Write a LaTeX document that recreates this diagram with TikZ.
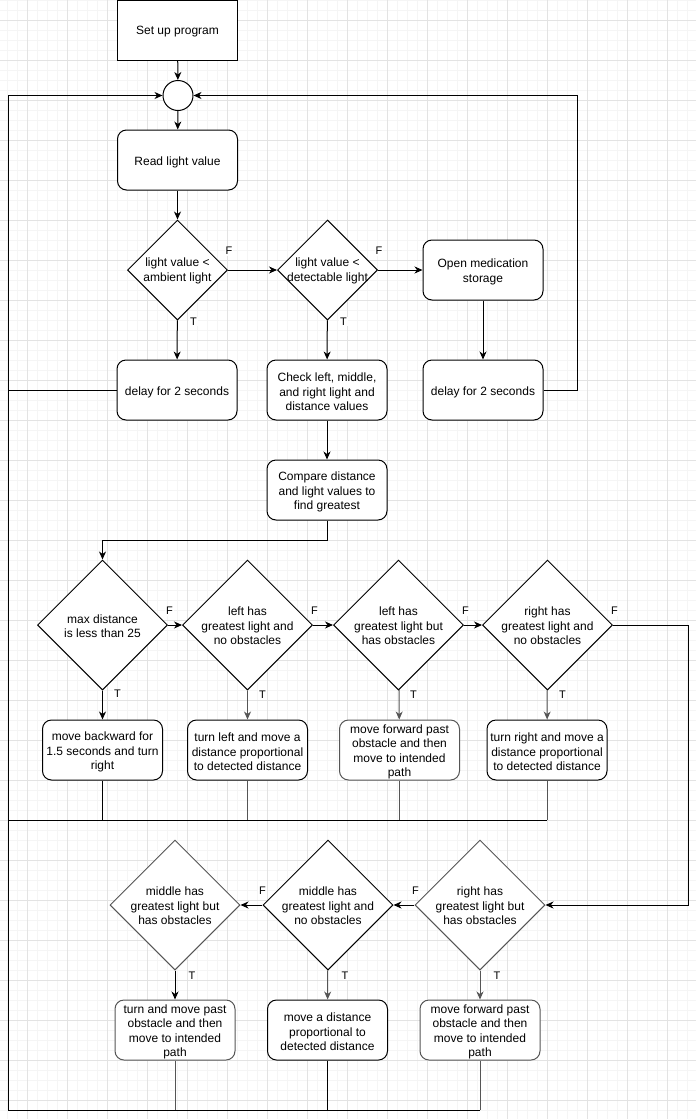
\documentclass[tikz,border=0pt]{standalone}
\usepackage{fontspec}
\setmainfont{Liberation Sans}
\usetikzlibrary{shapes.geometric,arrows.meta}
\definecolor{gmin}{HTML}{F5F5F5}
\definecolor{gmaj}{HTML}{E3E3E3}
\definecolor{dg}{HTML}{555555}
\newcommand\mybox[4]{\node[#3] (#1) at (#2) {};\node[txt] at ([yshift=-2pt]#1.center) {#4};}
\newcommand\mydia[4]{\node[dia=#3] (#1) at (#2) {};\node[txt] at ([yshift=-1pt]#1.center) {#4};}
\begin{document}
\begin{tikzpicture}[x=1pt,y=-1pt,line width=1pt,
  box/.style={draw,fill=white,minimum width=120pt,minimum height=60pt,inner sep=0pt},
  rbox/.style={box,rounded corners=9pt},
  dia/.style={draw,fill=white,diamond,aspect=1,inner sep=0pt,minimum width=#1,minimum height=#1},
  txt/.style={align=center,inner sep=0pt,font=\fontsize{12}{14.4}\selectfont},
  lab/.style={fill=white,inner sep=1pt,font=\fontsize{11}{12}\selectfont},
  arr/.style={-{Stealth[length=8pt,width=7pt,inset=2.5pt]}},
  gl/.style={draw=dg}
]
\useasboundingbox (0,0) rectangle (696,1119);
\fill[white] (0,0) rectangle (696,1119);
% grid
\foreach \x in {7,17,...,697} \draw[gmin] (\x,0) -- (\x,1119);
\foreach \y in {0,10,...,1110} \draw[gmin] (0,\y+0.7) -- (696,\y+0.7);
\foreach \x in {27,67,...,667} \draw[gmaj] (\x,0) -- (\x,1119);
\foreach \y in {0,40,...,1080} \draw[gmaj] (0,\y+20.7) -- (696,\y+20.7);

% top part
\mybox{setup}{177.5,30}{box}{Set up program}
\node[circle,draw,fill=white,minimum size=30pt,inner sep=0pt] (jn) at (178,95.5) {};
\mybox{read}{177.5,160}{rbox}{Read light value}
\mydia{d1}{177.5,270}{100pt}{light value <\\ambient light}
\mydia{d2}{327.5,270}{100pt}{light value <\\detectable light}
\mybox{med}{483,270}{rbox}{Open medication\\storage}
\mybox{dl1}{177,390}{rbox}{delay for 2 seconds}
\mybox{chk}{327,390}{rbox}{Check left, middle,\\and right light and\\distance values}
\mybox{dl2}{483,390}{rbox}{delay for 2 seconds}
\mybox{cmp}{327,490}{rbox}{Compare distance\\and light values to\\find greatest}

% middle row
\mydia{d3}{102.5,625}{130pt}{max distance\\is less than 25}
\mydia{d4}{247.5,625}{130pt}{left has\\greatest light and\\no obstacles}
\mydia{d5}{398.5,625}{130pt}{left has\\greatest light but\\has obstacles}
\mydia{d6}{547.5,625}{130pt}{right has\\greatest light and\\no obstacles}
\mybox{b3}{102.5,750}{rbox}{move backward for\\1.5 seconds and turn\\right}
\mybox{b4}{247.5,750}{rbox}{turn left and move a\\distance proportional\\to detected distance}
\mybox{b5}{399.5,750}{rbox,gl}{move forward past\\obstacle and then\\move to intended\\path}
\mybox{b6}{547,750}{rbox}{turn right and move a\\distance proportional\\to detected distance}

% bottom row
\mydia{d7}{480,905}{130pt,gl}{right has\\greatest light but\\has obstacles}
\mydia{d8}{328,905}{130pt}{middle has\\greatest light and\\no obstacles}
\mydia{d9}{175,905}{130pt,gl}{middle has\\greatest light but\\has obstacles}
\mybox{b7}{480,1030}{rbox,gl}{move forward past\\obstacle and then\\move to intended\\path}
\mybox{b8}{327.5,1030}{rbox}{move a distance\\proportional to\\detected distance}
\mybox{b9}{175,1030}{rbox,gl}{turn and move past\\obstacle and then\\move to intended\\path}

% coordinates
\coordinate (ld) at (8,390);
\coordinate (lm) at (8,820);
\coordinate (lb) at (8,1110);
\coordinate (rt) at (577,95.5);
\coordinate (cm) at (327,540);
\coordinate (rr) at (688,625);

% connectors top
\draw[arr] (setup) -- (jn);
\draw[arr] (jn) -- (read);
\draw[arr] (read) -- (d1);
\draw[arr] (d1) -- (d2);
\draw[arr] (d2) -- (med);
\draw[arr] (d1) -- (dl1);
\draw[arr] (d2) -- (chk);
\draw[arr] (med) -- (dl2);
\draw[arr] (chk) -- (cmp);
\draw[arr] (dl2.east) -| (rt) -- (jn.east);
\draw[arr] (lb) |- (jn.west);
\draw (dl1.west) -- (ld);
\draw[arr] (cmp.south) -- (cm) -| (d3.north);

% connectors middle
\draw[arr] (d3) -- (d4);
\draw[arr] (d4) -- (d5);
\draw[arr] (d5) -- (d6);
\draw[arr] (d3) -- (b3);
\draw[arr,dg] (d4) -- (b4);
\draw[arr,dg] (d5) -- (b5);
\draw[arr,dg] (d6) -- (b6);
\draw (b3.south) |- (lm);
\draw[dg] (b4.south) -- (b4.south |- lm);
\draw[dg] (b5.south) -- (b5.south |- lm);
\draw[dg] (b6.south) -- (b6.south |- lm);
\draw (b6.south |- lm) -- (lm);
\draw[arr] (d6.east) -- (rr) |- (d7.east);

% connectors bottom
\draw[arr] (d7) -- (d8);
\draw[arr] (d8) -- (d9);
\draw[arr,dg] (d7) -- (b7);
\draw[arr,dg] (d8) -- (b8);
\draw[arr] (d9) -- (b9);
\draw[dg] (b7.south) -- (b7.south |- lb);
\draw (b7.south |- lb) -- (lb);
\draw (b8.south) -- (b8.south |- lb);
\draw[dg] (b9.south) -- (b9.south |- lb);

% labels
\node[lab] at ([shift={(1,-19)}]d1.east) {F};
\node[lab] at ([shift={(1,-19)}]d2.east) {F};
\node[lab] at ([shift={(16,1)}]d1.south) {T};
\node[lab] at ([shift={(16,1)}]d2.south) {T};
\node[lab] at ([shift={(1.5,-14)}]d3.east) {F};
\node[lab] at ([shift={(1.5,-14)}]d4.east) {F};
\node[lab] at ([shift={(1.5,-14)}]d5.east) {F};
\node[lab] at ([shift={(1.5,-14)}]d6.east) {F};
\node[lab] at ([shift={(15,3)}]d3.south) {T};
\node[lab] at ([shift={(15,4)}]d4.south) {T};
\node[lab] at ([shift={(15,4)}]d5.south) {T};
\node[lab] at ([shift={(15,4)}]d6.south) {T};
\node[lab] at ([shift={(1,-14)}]d7.west) {F};
\node[lab] at ([shift={(0,-14)}]d8.west) {F};
\node[lab] at ([shift={(17,5)}]d7.south) {T};
\node[lab] at ([shift={(17,5)}]d8.south) {T};
\node[lab] at ([shift={(17,5)}]d9.south) {T};
\end{tikzpicture}
\end{document}
